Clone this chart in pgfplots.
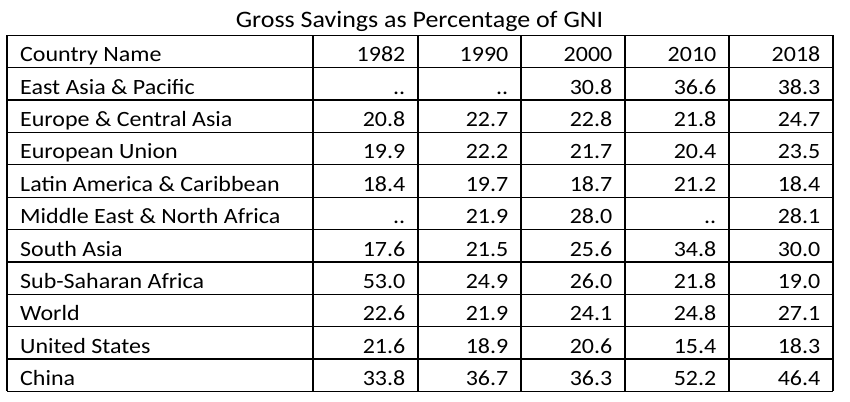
\documentclass[border=0pt]{standalone}
\usepackage{fontspec}
\setmainfont{Carlito}[FakeStretch=1.1]
\usepackage{pgfplots}
\pgfplotsset{compat=1.18}
\usepackage{pgfplotstable}

\pgfplotstableread[col sep=comma]{
r,name,a,b,c,d,e
0,Country Name,1982,1990,2000,2010,2018
1,East Asia \& Pacific,..,..,30.8,36.6,38.3
2,Europe \& Central Asia,20.8,22.7,22.8,21.8,24.7
3,European Union,19.9,22.2,21.7,20.4,23.5
4,Latin America \& Caribbean,18.4,19.7,18.7,21.2,18.4
5,Middle East \& North Africa,..,21.9,28.0,..,28.1
6,South Asia,17.6,21.5,25.6,34.8,30.0
7,Sub-Saharan Africa,53.0,24.9,26.0,21.8,19.0
8,World,22.6,21.9,24.1,24.8,27.1
9,United States,21.6,18.9,20.6,15.4,18.3
10,China,33.8,36.7,36.3,52.2,46.4
}\gstable

\pgfplotstableread{
x y
7 35.3
833 35.3
nan nan
7 67.7
833 67.7
nan nan
7 100.1
833 100.1
nan nan
7 132.4
833 132.4
nan nan
7 164.8
833 164.8
nan nan
7 197.2
833 197.2
nan nan
7 229.5
833 229.5
nan nan
7 261.9
833 261.9
nan nan
7 294.3
833 294.3
nan nan
7 326.6
833 326.6
nan nan
7 359.0
833 359.0
nan nan
7 391.3
833 391.3
nan nan
7 35.3
7 391.3
nan nan
313 35.3
313 391.3
nan nan
418 35.3
418 391.3
nan nan
521 35.3
521 391.3
nan nan
625 35.3
625 391.3
nan nan
729 35.3
729 391.3
nan nan
833 35.3
833 391.3
}\gridlines

\begin{document}
\begin{tikzpicture}
\begin{axis}[
  width=850bp, height=401bp, scale only axis,
  xmin=0, xmax=850, ymin=0, ymax=401, y dir=reverse,
  hide axis, clip=false, unbounded coords=jump,
  every node near coord/.append style={text=black, inner sep=0pt, font=\fontsize{21.8bp}{26bp}\selectfont},
]
\addplot[draw=none, mark=none, forget plot] coordinates {(0,0) (850,401)};
\addplot[black, line width=1.3bp, mark=none] table[x=x, y=y] {\gridlines};
% title
\addplot[draw=none, mark=none, nodes near coords, point meta=explicit symbolic,
  every node near coord/.append style={anchor=base, font=\fontsize{23.6bp}{28bp}\selectfont}]
  coordinates {(419.5,27.3) [Gross Savings as Percentage of GNI]};
% names
\addplot[draw=none, mark=none, nodes near coords, point meta=explicit symbolic,
  every node near coord/.append style={anchor=base west}]
  table[x expr=20, y expr=\thisrow{r}*32.37+61.8, meta=name] {\gstable};
\addplot[draw=none, mark=none, nodes near coords, point meta=explicit symbolic,
  every node near coord/.append style={anchor=base east}]
  table[x expr=405.5, y expr=\thisrow{r}*32.37+61.8, meta=a] {\gstable};
\addplot[draw=none, mark=none, nodes near coords, point meta=explicit symbolic,
  every node near coord/.append style={anchor=base east}]
  table[x expr=508.5, y expr=\thisrow{r}*32.37+61.8, meta=b] {\gstable};
\addplot[draw=none, mark=none, nodes near coords, point meta=explicit symbolic,
  every node near coord/.append style={anchor=base east}]
  table[x expr=612.5, y expr=\thisrow{r}*32.37+61.8, meta=c] {\gstable};
\addplot[draw=none, mark=none, nodes near coords, point meta=explicit symbolic,
  every node near coord/.append style={anchor=base east}]
  table[x expr=716.5, y expr=\thisrow{r}*32.37+61.8, meta=d] {\gstable};
\addplot[draw=none, mark=none, nodes near coords, point meta=explicit symbolic,
  every node near coord/.append style={anchor=base east}]
  table[x expr=820.5, y expr=\thisrow{r}*32.37+61.8, meta=e] {\gstable};
\end{axis}
\end{tikzpicture}
\end{document}
